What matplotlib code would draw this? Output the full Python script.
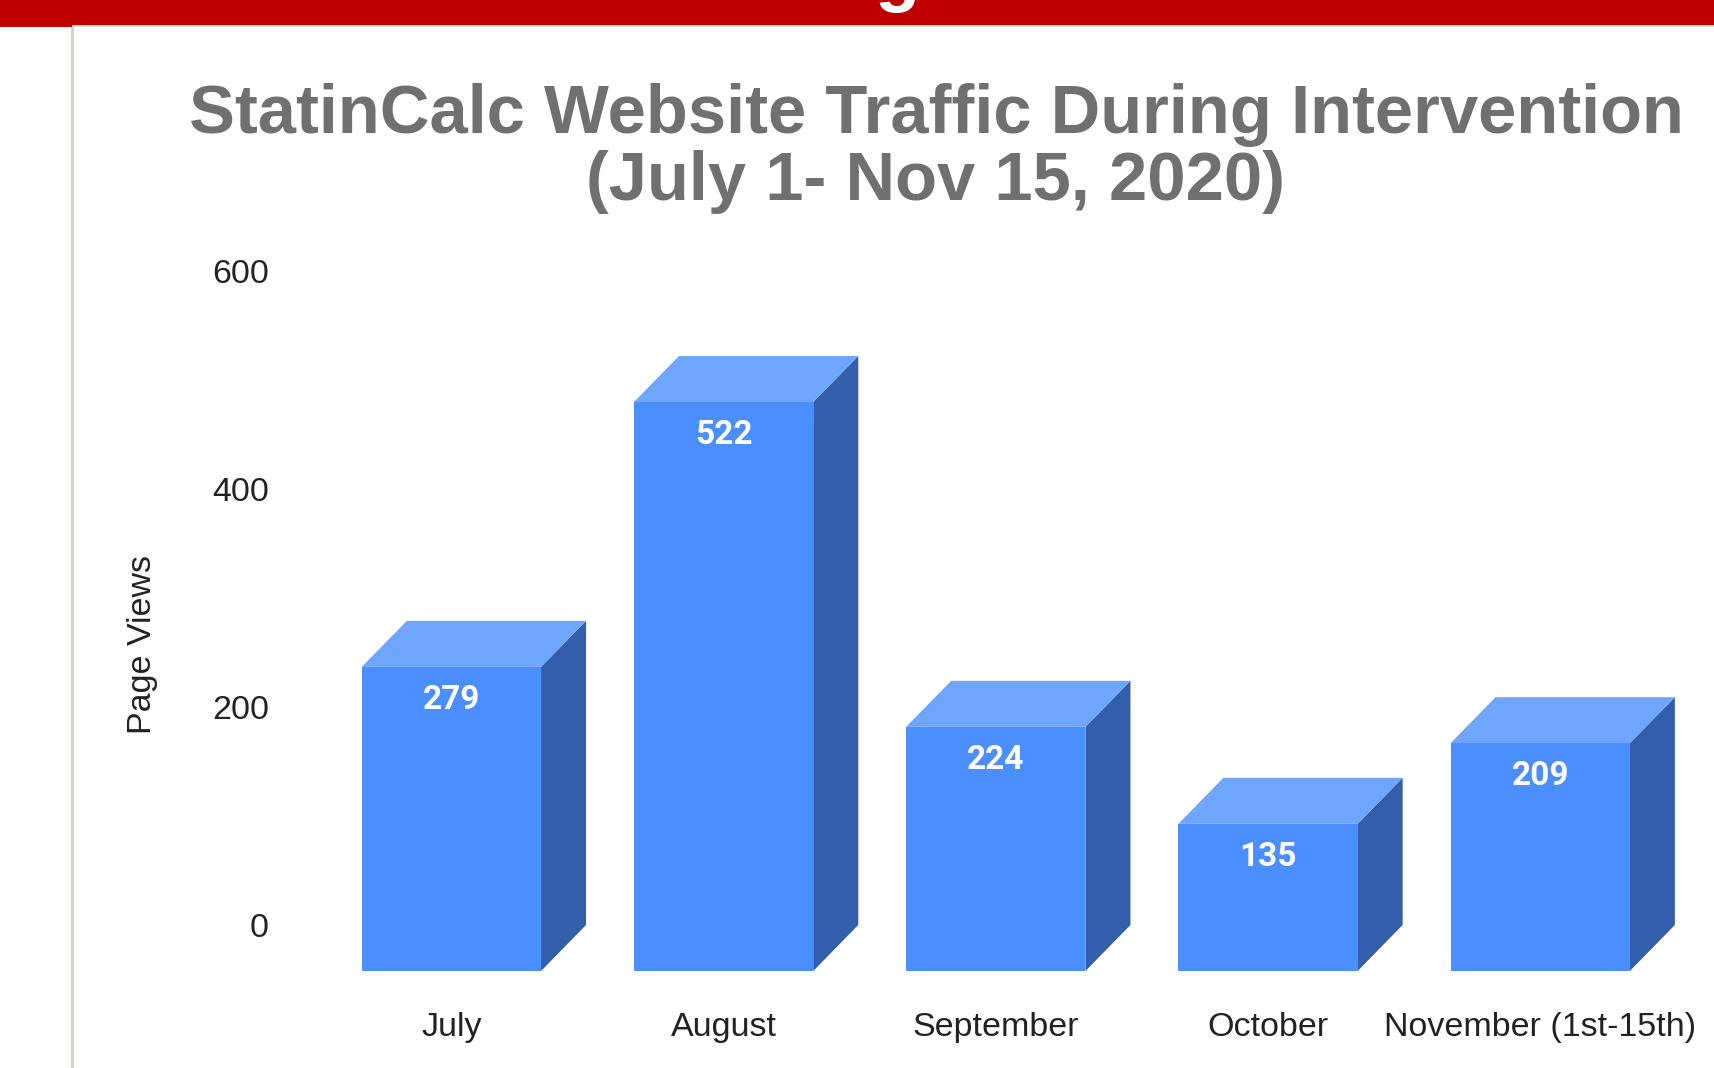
import matplotlib
matplotlib.use("Agg")
import matplotlib.pyplot as plt
from matplotlib.patches import Polygon, Rectangle
from matplotlib.lines import Line2D

# ---- data ----
categories = ["July", "August", "September", "October", "November (1st-15th)"]
page_views = [279, 522, 224, 135, 209]
y_ticks = [0, 200, 400, 600]
title_line1 = "StatinCalc Website Traffic During Intervention"
title_line2 = "(July 1- Nov 15, 2020)"
y_label = "Page Views"

# ---- figure geometry (pixels) ----
W, H = 1714, 1068
DPI = 100
fig = plt.figure(figsize=(W / DPI, H / DPI), dpi=DPI)
fig.patch.set_facecolor("white")

# slide decorations
fig.patches.append(Rectangle((0, 1 - 25 / H), 1, 25 / H, transform=fig.transFigure,
                             facecolor="#c00000", edgecolor="none", zorder=5))
fig.patches.append(Rectangle((0, 1 - 27 / H), 72 / W, 27 / H, transform=fig.transFigure,
                             facecolor="#c00000", edgecolor="none", zorder=5))
fig.lines.append(Line2D([72 / W, 72 / W], [0, 1 - 25 / H], transform=fig.transFigure,
                        color="#d3cfc6", lw=2, zorder=4))
fig.lines.append(Line2D([72 / W, 1], [1 - 26 / H, 1 - 26 / H], transform=fig.transFigure,
                        color="#d8d4cc", lw=1.2, zorder=4))
fig.text(898 / W, 1 + 2 / H, "g", color="white", fontsize=53, fontweight="bold",
         family="Liberation Sans", ha="center", va="baseline", zorder=6)

# ---- axes placement ----
px_per_unit = 1.09
zero_py = 925.0            # y pixel (from top) of value 0 on back plane
cat0_px = 451.4            # x pixel of first front-face centre
cat_step = 272.2
left_px, right_px = 280, W
bottom_py, top_py = 971.7, 200
ax = fig.add_axes([left_px / W, 1 - bottom_py / H, (right_px - left_px) / W,
                   (bottom_py - top_py) / H])
ax.set_xlim((left_px - cat0_px) / cat_step, (right_px - cat0_px) / cat_step)
ax.set_ylim((zero_py - bottom_py) / px_per_unit, (zero_py - top_py) / px_per_unit)
for s in ax.spines.values():
    s.set_visible(False)
ax.patch.set_alpha(0)

half_w = 179.3 / 2 / cat_step
dx = 45.0 / cat_step
dy = 46.0 / px_per_unit

front_c = "#4a8eff"
top_c = "#6ea6fd"
side_c = "#325eab"

for i, v in enumerate(page_views):
    xl, xr = i - half_w, i + half_w
    front = Polygon([(xl, -dy), (xr, -dy), (xr, v - dy), (xl, v - dy)],
                    closed=True, facecolor=front_c, edgecolor="none", zorder=3)
    top = Polygon([(xl, v - dy), (xr, v - dy), (xr + dx, v), (xl + dx, v)],
                  closed=True, facecolor=top_c, edgecolor="none", zorder=2)
    side = Polygon([(xr, -dy), (xr + dx, 0), (xr + dx, v), (xr, v - dy)],
                   closed=True, facecolor=side_c, edgecolor="none", zorder=2)
    for p in (side, top, front):
        p.set_clip_on(False)
        ax.add_patch(p)
    ax.annotate(str(v), xy=(i, v - dy), xytext=(0, -33 * 72 / DPI),
                textcoords="offset points", ha="center", va="center",
                color="white", fontsize=24, fontweight="bold",
                family="Roboto", zorder=5)

ax.set_xticks(range(len(categories)))
ax.set_xticklabels(categories, family="Liberation Sans", fontsize=24.5, color="#222222")
ax.set_yticks(y_ticks)
ax.set_yticklabels([str(t) for t in y_ticks], family="Liberation Sans", fontsize=24.5,
                   color="#222222")
ax.tick_params(axis="both", length=0)
ax.tick_params(axis="y", pad=11 * 72 / DPI)
ax.tick_params(axis="x", pad=40 * 72 / DPI)

fig.text(142 / W, 1 - 645 / H, y_label, rotation=90, ha="center", va="center",
         family="Liberation Sans", fontsize=24.5, color="#222222")

fig.text(936 / W, 1 - 133 / H, title_line1, ha="center", va="baseline",
         family="Liberation Sans", fontweight="bold", fontsize=49.5, color="#707070")
fig.text(936 / W, 1 - 200 / H, title_line2, ha="center", va="baseline",
         family="Liberation Sans", fontweight="bold", fontsize=49.5, color="#707070")

fig.savefig("out.png", dpi=DPI, facecolor="white")
